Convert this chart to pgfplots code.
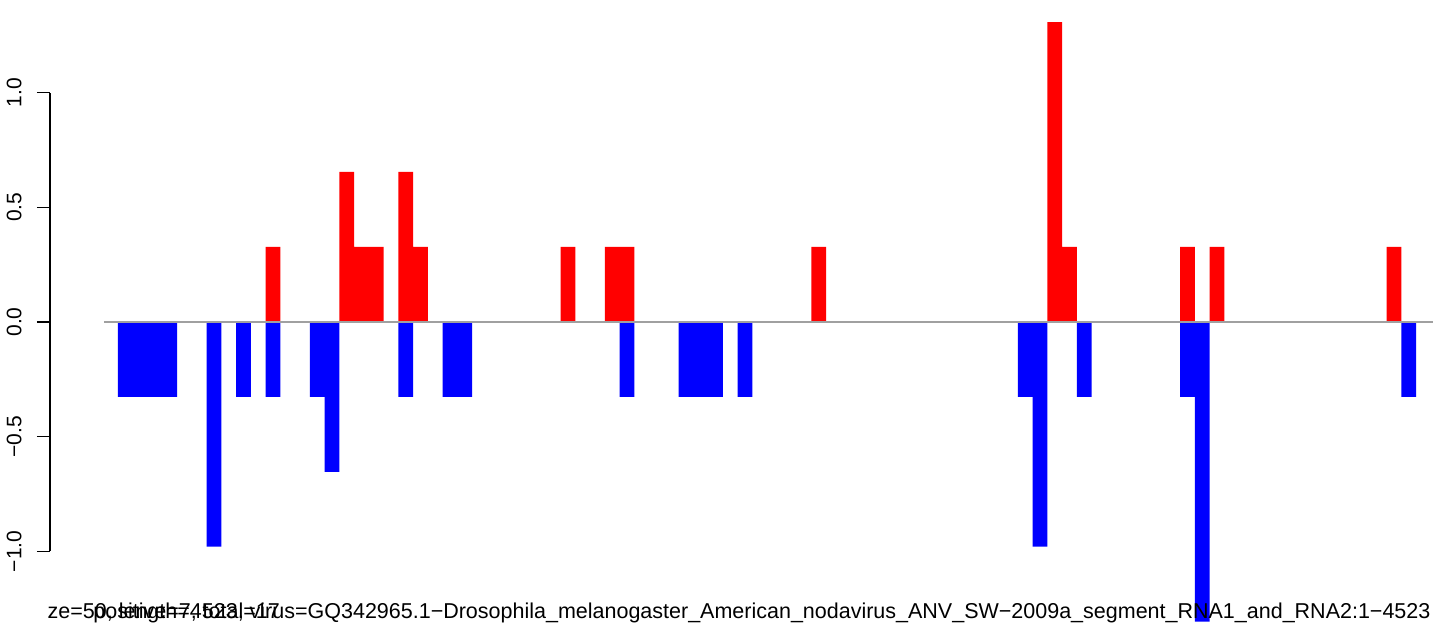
\documentclass[border=0pt]{standalone}
\usepackage{fontspec}
\setmainfont{Liberation Sans}
\usepackage{pgfplots}
\pgfplotsset{compat=1.18}
\definecolor{zl}{RGB}{160,160,160}
\definecolor{rbar}{RGB}{255,0,0}
\definecolor{bbar}{RGB}{0,0,255}
\begin{document}
\begin{tikzpicture}
\path[use as bounding box] (0,0) rectangle (716.5pt,316pt);
\begin{axis}[
  at={(25pt,0pt)}, anchor=south west,
  scale only axis, width=691.5pt, height=316pt,
  xmin=-4.61, xmax=89.15, ymin=-1.352, ymax=1.404,
  axis lines*=left,
  axis line style={-, draw=none},
  xtick=\empty,
  ytick={-1,-0.5,0,0.5,1},
  yticklabels={−1.0,−0.5,0.0,0.5,1.0},
  tick align=outside,
  major tick length=6.5pt,
  tick style={black, line width=0.75pt},
  yticklabel style={rotate=90, anchor=south, inner sep=0pt, yshift=7.5pt, font=\fontsize{10.5}{12}\selectfont},
  clip=false,
]
\addplot[ybar, bar width=1, bar shift=0pt, fill=rbar, draw=none] coordinates {
(10.5,0.327) (15.5,0.654) (16.5,0.327) (17.5,0.327) (19.5,0.654) (20.5,0.327)
(30.5,0.327) (33.5,0.327) (34.5,0.327) (47.5,0.327) (63.5,1.307) (64.5,0.327)
(72.5,0.327) (74.5,0.327) (86.5,0.327)};
\addplot[ybar, bar width=1, bar shift=0pt, fill=bbar, draw=none] coordinates {
(0.5,-0.327) (1.5,-0.327) (2.5,-0.327) (3.5,-0.327) (6.5,-0.98) (8.5,-0.327)
(10.5,-0.327) (13.5,-0.327) (14.5,-0.654) (19.5,-0.327) (22.5,-0.327) (23.5,-0.327)
(34.5,-0.327) (38.5,-0.327) (39.5,-0.327) (40.5,-0.327) (42.5,-0.327) (61.5,-0.327)
(62.5,-0.98) (65.5,-0.327) (72.5,-0.327) (73.5,-1.307) (87.5,-0.327)};
\addplot[zl, line width=0.75pt] coordinates {(-0.95,0) (89.15,0)};
\draw[black, line width=0.75pt] (axis cs:-4.61,-1) -- (axis cs:-4.61,1);
\end{axis}
\node[anchor=base east, inner sep=0pt, font=\fontsize{10.75}{12}\selectfont] at (715.5pt,7pt) {ze=50, length=4523, virus=GQ342965.1−Drosophila\_melanogaster\_American\_nodavirus\_ANV\_SW−2009a\_segment\_RNA1\_and\_RNA2:1−4523};
\node[anchor=base west, inner sep=0pt, font=\fontsize{10.75}{12}\selectfont] at (46.5pt,7pt) {positive=7, total=17};
\end{tikzpicture}
\end{document}
